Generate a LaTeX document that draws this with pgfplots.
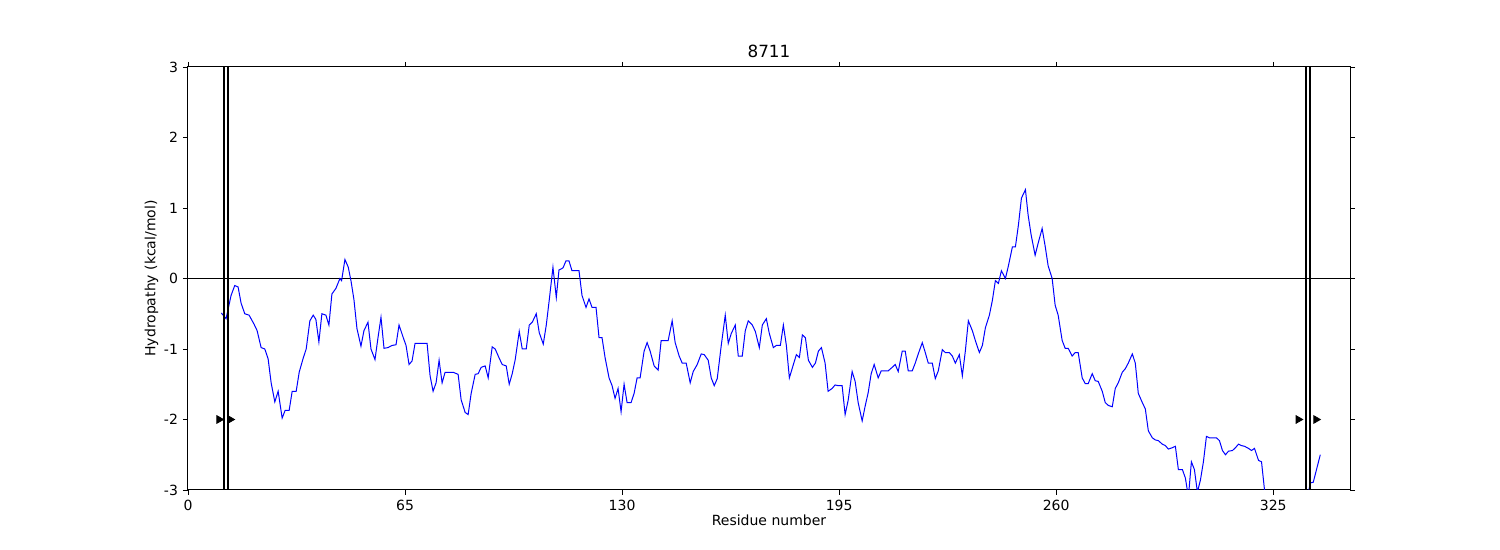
\documentclass[border=0pt]{standalone}
\usepackage{pgfplots}
\pgfplotsset{compat=1.18}
\usepackage{fontspec}
\setmainfont{DejaVu Sans}
\begin{document}
\fontsize{7}{8.4}\selectfont
\begin{tikzpicture}
\path[use as bounding box] (-94pt,-30pt) rectangle (656pt,245pt);
\begin{axis}[at={(0,0)},anchor=south west,scale only axis,width=581pt,height=211.5pt,
xmin=0,xmax=348,ymin=-3,ymax=3,clip=true,
xtick={0,65,130,195,260,325},ytick={-3,-2,-1,0,1,2,3},
tick align=outside,tick style={black,line width=0.4pt},major tick length=2.5pt,
/pgf/number format/assume math mode=true,
title={\fontsize{8.4}{10}\selectfont 8711},title style={yshift=-4pt},
xlabel={Residue number},ylabel={Hydropathy (kcal/mol)},
xlabel style={yshift=3pt},ylabel style={yshift=-2pt},
axis line style={line width=0.5pt}]
\addplot[black,line width=0.4pt] coordinates {(0,0) (348,0)};
\addplot[blue,line width=0.5pt] coordinates {
(10,-0.49)(11.4,-0.57)(12.9,-0.24)(14,-0.1)(15,-0.12)(15.9,-0.35)(17,-0.5)(18.3,-0.52)(19.8,-0.65)(20.7,-0.74)(21.9,-0.98)(23,-1.0)(24,-1.14)(24.9,-1.48)(26,-1.75)(27,-1.6)(28.2,-1.98)(29.1,-1.87)(30.3,-1.87)(31.2,-1.6)(32.4,-1.6)(33.3,-1.33)(34.5,-1.13)(35.4,-1.0)(36.5,-0.6)(37.5,-0.52)(38.3,-0.58)(39.2,-0.9)(40.1,-0.5)(41.3,-0.52)(42.2,-0.66)(43.1,-0.22)(44.3,-0.14)(45.5,0.0)(46,-0.03)(47,0.27)(48,0.16)(48.8,-0.03)(49.7,-0.3)(50.6,-0.71)(51.8,-0.96)(52.7,-0.74)(53.9,-0.62)(54.8,-1.0)(56,-1.15)(56.9,-0.84)(57.8,-0.55)(58.7,-0.99)(59.9,-0.98)(61.1,-0.95)(62.3,-0.94)(63.2,-0.66)(64.4,-0.83)(65.3,-0.95)(66.2,-1.22)(67.1,-1.17)(68,-0.92)(69.2,-0.92)(70.4,-0.92)(71.6,-0.92)(72.5,-1.38)(73.4,-1.6)(74.3,-1.48)(75.2,-1.16)(76.1,-1.48)(77,-1.33)(78.2,-1.33)(79.4,-1.33)(80.9,-1.36)(81.8,-1.72)(83,-1.9)(83.9,-1.93)(84.8,-1.63)(86,-1.36)(86.9,-1.35)(87.8,-1.26)(89,-1.24)(89.9,-1.41)(91.1,-0.97)(92,-1.0)(93.2,-1.13)(94.1,-1.22)(95.3,-1.24)(96.2,-1.5)(97.1,-1.35)(98,-1.15)(99.2,-0.75)(100.1,-1.0)(101.3,-1.0)(102.2,-0.66)(103.1,-0.62)(104.3,-0.5)(105.2,-0.77)(106.4,-0.93)(107.3,-0.66)(108.2,-0.3)(109.3,0.16)(110.3,-0.27)(111.1,0.12)(112.3,0.15)(113.2,0.25)(114.1,0.25)(115,0.11)(116.2,0.11)(117.1,0.11)(118,-0.24)(119.2,-0.41)(120.1,-0.29)(121,-0.41)(122.2,-0.41)(123.1,-0.84)(124,-0.84)(124.9,-1.12)(126.1,-1.41)(127,-1.52)(127.9,-1.7)(128.8,-1.56)(129.7,-1.89)(130.6,-1.5)(131.5,-1.76)(132.7,-1.76)(133.6,-1.63)(134.5,-1.41)(135.4,-1.41)(136.6,-1.03)(137.5,-0.91)(138.4,-1.03)(139.6,-1.24)(140.8,-1.3)(141.7,-0.88)(142.9,-0.88)(143.8,-0.88)(145,-0.6)(145.9,-0.91)(147.1,-1.1)(148,-1.2)(149.2,-1.2)(150.4,-1.48)(151.3,-1.32)(152.5,-1.22)(153.7,-1.07)(154.6,-1.08)(155.8,-1.16)(156.7,-1.41)(157.6,-1.52)(158.5,-1.42)(159.7,-0.95)(160.9,-0.52)(161.8,-0.92)(162.7,-0.78)(163.9,-0.66)(164.8,-1.1)(166,-1.1)(166.9,-0.74)(167.8,-0.6)(169,-0.66)(169.9,-0.75)(171.1,-0.98)(172,-0.66)(173.2,-0.57)(174.1,-0.78)(175.3,-0.98)(176.2,-0.95)(177.4,-0.95)(178.3,-0.66)(179.2,-0.95)(180.1,-1.41)(181.3,-1.22)(182.2,-1.08)(183.1,-1.12)(184,-0.8)(184.9,-0.84)(185.8,-1.16)(187,-1.26)(187.9,-1.2)(188.8,-1.03)(189.7,-0.98)(190.8,-1.2)(191.7,-1.6)(192.9,-1.56)(193.8,-1.51)(194.7,-1.52)(195.9,-1.52)(196.8,-1.93)(197.7,-1.73)(198.9,-1.32)(199.8,-1.46)(200.7,-1.76)(201.9,-2.02)(202.8,-1.81)(203.7,-1.62)(204.6,-1.35)(205.5,-1.22)(206.7,-1.41)(207.6,-1.31)(208.8,-1.31)(209.7,-1.31)(210.9,-1.26)(211.8,-1.22)(212.7,-1.32)(213.9,-1.03)(214.8,-1.03)(215.7,-1.31)(216.9,-1.31)(217.8,-1.2)(218.7,-1.07)(219.9,-0.91)(220.8,-1.05)(221.7,-1.2)(222.9,-1.2)(223.8,-1.42)(224.7,-1.31)(225.9,-1.01)(226.8,-1.05)(228,-1.05)(228.9,-1.1)(229.8,-1.2)(231,-1.08)(231.9,-1.38)(232.8,-1.03)(233.7,-0.6)(234.9,-0.74)(235.8,-0.88)(237,-1.05)(237.9,-0.95)(238.8,-0.7)(240,-0.52)(240.9,-0.31)(241.8,-0.03)(242.7,-0.07)(243.6,0.11)(244.8,0.0)(245.7,0.18)(246.9,0.45)(247.8,0.45)(248.7,0.76)(249.6,1.14)(250.8,1.26)(251.6,0.9)(252.5,0.62)(253.7,0.33)(254.6,0.5)(255.8,0.71)(256.7,0.46)(257.6,0.18)(258.8,0.0)(259.7,-0.38)(260.6,-0.52)(261.8,-0.88)(262.7,-0.99)(263.6,-0.99)(264.8,-1.1)(265.7,-1.05)(266.6,-1.05)(267.8,-1.41)(268.7,-1.49)(269.6,-1.49)(270.8,-1.35)(271.7,-1.45)(272.6,-1.46)(273.8,-1.6)(274.7,-1.76)(275.6,-1.8)(276.8,-1.82)(277.7,-1.56)(278.6,-1.48)(279.8,-1.33)(280.7,-1.28)(281.6,-1.2)(282.8,-1.07)(283.7,-1.2)(284.6,-1.63)(285.8,-1.76)(286.7,-1.85)(287.6,-2.16)(288.8,-2.26)(289.7,-2.29)(290.6,-2.3)(291.8,-2.35)(292.7,-2.37)(293.6,-2.42)(294.8,-2.4)(295.7,-2.38)(296.6,-2.71)(297.8,-2.71)(298.7,-2.83)(299.6,-3.1)(300.5,-2.6)(301.4,-2.71)(302.3,-3.03)(303.2,-2.86)(304.1,-2.6)(305,-2.24)(305.9,-2.26)(307.1,-2.26)(308,-2.26)(308.9,-2.3)(309.8,-2.44)(310.7,-2.5)(311.6,-2.45)(312.8,-2.44)(313.7,-2.4)(314.6,-2.35)(315.5,-2.37)(316.4,-2.38)(317.6,-2.41)(318.5,-2.44)(319.4,-2.41)(320.6,-2.58)(321.5,-2.6)(322.4,-3.0)(323.5,-3.4)(326,-3.6)(330,-3.7)(334,-3.4)(335.5,-3.05)(336.1,-2.9)(337,-2.89)(339.1,-2.5)};
\addplot[black,line width=1.2pt] coordinates {(10.8,-3) (10.8,3)};
\addplot[black,line width=1.2pt] coordinates {(12.0,-3) (12.0,3)};
\addplot[black,line width=1.2pt] coordinates {(334.9,-3) (334.9,3)};
\addplot[black,line width=1.2pt] coordinates {(336.1,-3) (336.1,3)};
\addplot[only marks,mark=triangle*,mark options={rotate=-90,fill=black},mark size=2.2pt,black] coordinates {(9.3,-2)(12.6,-2)(332.5,-2)(337.8,-2)};
\end{axis}
\end{tikzpicture}
\end{document}
